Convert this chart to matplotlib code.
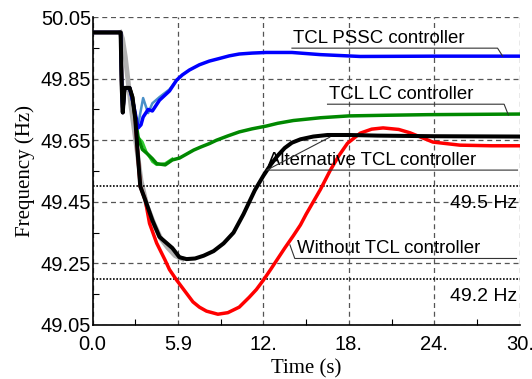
import numpy as np
import matplotlib.pyplot as plt
from matplotlib.ticker import MultipleLocator, FixedLocator

# Data (time in s, frequency in Hz)
t_alt = [0, 1.97, 2.05, 2.12, 2.25, 2.6, 2.8, 3.0, 3.15, 3.35, 3.7, 4.2, 4.7, 5.1, 5.6, 6.1, 6.6,
         7.2, 7.8, 8.5, 9.2, 9.9, 10.6, 11.4, 12.0, 12.5, 13.0, 13.5, 14.0, 14.6, 15.5, 16.5,
         18.0, 20.0, 24.0, 30.0]
f_alt = [50.0, 50.0, 49.82, 49.74, 49.82, 49.82, 49.79, 49.72, 49.62, 49.50, 49.456, 49.39,
         49.336, 49.32, 49.30, 49.27, 49.264, 49.266, 49.275, 49.29, 49.315, 49.35, 49.41,
         49.488, 49.535, 49.57, 49.60, 49.625, 49.642, 49.653, 49.662, 49.667, 49.667, 49.665,
         49.663, 49.662]

t_without = [0, 1.97, 2.05, 2.12, 2.25, 2.6, 2.8, 3.0, 3.15, 3.35, 3.7, 4.0, 4.5, 5.1, 5.4,
             5.9, 6.4, 7.05, 7.5, 8.0, 8.8, 9.5, 10.3, 11.0, 11.5, 12.0, 12.5, 13.0, 13.5,
             14.1, 14.6, 15.0, 15.5, 16.0, 16.7, 17.3, 17.9, 18.8, 19.6, 20.4, 21.5, 22.3,
             23.9, 25.8, 28.0, 30.0]
f_without = [50.0, 50.0, 49.82, 49.74, 49.82, 49.82, 49.79, 49.72, 49.62, 49.50, 49.456, 49.38,
             49.316, 49.26, 49.23, 49.196, 49.165, 49.125, 49.108, 49.095, 49.085, 49.09,
             49.108, 49.14, 49.165, 49.196, 49.23, 49.265, 49.30, 49.34, 49.375, 49.41, 49.45,
             49.49, 49.553, 49.60, 49.64, 49.673, 49.686, 49.69, 49.685, 49.674, 49.644,
             49.634, 49.632, 49.632]

t_pssc = [0, 1.97, 2.05, 2.12, 2.25, 2.6, 2.9, 3.2, 3.4, 3.55, 3.9, 4.2, 4.7, 5.4, 5.9, 6.3,
          6.8, 7.5, 8.2, 8.95, 9.6, 10.3, 11.2, 12.2, 14.0, 16.0, 18.8, 24.0, 30.0]
f_pssc = [50.0, 50.0, 49.82, 49.74, 49.82, 49.82, 49.76, 49.69, 49.70, 49.725, 49.75, 49.745,
          49.78, 49.81, 49.845, 49.862, 49.878, 49.895, 49.907, 49.916, 49.924, 49.93, 49.933,
          49.935, 49.935, 49.928, 49.922, 49.923, 49.923]
t_pssc_lt = [2.6, 2.9, 3.2, 3.55, 3.9, 4.2, 4.7, 5.4, 5.9]
f_pssc_lt = [49.82, 49.75, 49.70, 49.787, 49.738, 49.77, 49.79, 49.815, 49.845]

t_lc = [0, 1.97, 2.05, 2.12, 2.25, 2.6, 2.8, 3.0, 3.2, 3.5, 3.8, 4.2, 4.5, 5.1, 5.6, 6.1, 6.6,
        7.1, 7.6, 8.2, 8.7, 9.5, 10.3, 11.2, 12.2, 13.0, 14.1, 16.0, 18.0, 20.5, 23.5, 30.0]
f_lc = [50.0, 50.0, 49.82, 49.74, 49.82, 49.82, 49.79, 49.72, 49.66, 49.62, 49.608, 49.59,
        49.574, 49.57, 49.586, 49.592, 49.605, 49.618, 49.628, 49.639, 49.65, 49.664, 49.677,
        49.687, 49.696, 49.705, 49.714, 49.723, 49.729, 49.731, 49.733, 49.735]
t_lc_lt = [3.2, 3.5, 3.8, 4.2, 4.5, 5.1, 5.6]
f_lc_lt = [49.66, 49.645, 49.61, 49.58, 49.57, 49.575, 49.59]

t_grey = [1.95, 2.1, 2.3, 2.5, 2.7, 3.0, 3.4, 3.8, 4.3, 4.8, 5.3, 5.8, 6.3]
f_grey = [50.0, 49.98, 49.92, 49.84, 49.76, 49.66, 49.52, 49.44, 49.38, 49.33, 49.30, 49.275,
          49.265]

xticks = [0, 6, 12, 18, 24, 30]
xticklabels = ['0.0', '5.9', '12.', '18.', '24.', '30.']
yticks = [49.05, 49.25, 49.45, 49.65, 49.85, 50.05]

plt.rcParams['font.family'] = ['Liberation Sans', 'DejaVu Sans']

fig = plt.figure(figsize=(5.32, 3.79), dpi=100)
ax = fig.add_axes([0.174, 0.1425, 0.803, 0.8125])

# кривые
ax.plot(t_grey, f_grey, color='#b0b0b0', lw=3.5, zorder=2, solid_joinstyle='round')
ax.plot(t_without, f_without, color='#ff0000', lw=2.5, zorder=3, solid_joinstyle='round')
ax.plot(t_lc_lt, f_lc_lt, color='#33cc33', lw=1.8, zorder=3)
ax.plot(t_lc, f_lc, color='#008800', lw=2.5, zorder=4, solid_joinstyle='round')
ax.plot(t_pssc_lt, f_pssc_lt, color='#4a90c8', lw=1.8, zorder=3)
ax.plot(t_pssc, f_pssc, color='#0000ff', lw=2.5, zorder=4, solid_joinstyle='round')
ax.plot(t_alt, f_alt, color='black', lw=2.9, zorder=5, solid_joinstyle='round')

# пороговые линии
ax.axhline(49.5, color='black', lw=1.2, ls=(0, (1, 1)), zorder=2)
ax.axhline(49.2, color='black', lw=1.2, ls=(0, (1, 1)), zorder=2)
ax.text(29.85, 49.443, '49.5 Hz', ha='right', va='center', fontsize=14)
ax.text(29.85, 49.144, '49.2 Hz', ha='right', va='center', fontsize=14)

# подписи с выносками
lead = dict(color='#333333', lw=0.8, zorder=6)
fs = 13.4
ax.plot([14.0, 28.44, 28.8], [49.949, 49.949, 49.923], **lead)
ax.text(14.1, 49.953, 'TCL PSSC controller', ha='left', va='bottom', fontsize=fs)
ax.plot([16.5, 28.9, 29.2], [49.767, 49.767, 49.732], **lead)
ax.text(16.6, 49.771, 'TCL LC controller', ha='left', va='bottom', fontsize=fs)
ax.plot([16.66, 12.23, 29.84], [49.66, 49.553, 49.553], **lead)
ax.text(12.3, 49.557, 'Alternative TCL controller', ha='left', va='bottom', fontsize=fs)
ax.plot([13.86, 14.2, 29.77], [49.31, 49.266, 49.266], **lead)
ax.text(14.35, 49.27, 'Without TCL controller', ha='left', va='bottom', fontsize=fs)

ax.set_xlim(0, 30)
ax.set_ylim(49.05, 50.05)
ax.set_xticks(xticks)
ax.set_xticklabels(xticklabels)
ax.yaxis.set_major_locator(FixedLocator(yticks))
ax.set_yticklabels(['%.2f' % v for v in yticks])
ax.xaxis.set_minor_locator(MultipleLocator(3))
ax.yaxis.set_minor_locator(FixedLocator([49.15, 49.35, 49.55, 49.75, 49.95]))
ax.tick_params(which='both', direction='in', labelsize=14.5)
ax.tick_params(which='major', length=0)
ax.tick_params(which='minor', length=4, width=0.8)
ax.tick_params(axis='y', pad=1)
ax.tick_params(axis='x', pad=7)
ax.grid(True, which='major', color='#555555', ls=(0, (4, 3)), lw=0.9)

ax.spines['top'].set_visible(False)
ax.spines['right'].set_visible(False)
ax.spines['left'].set_linewidth(1.2)
ax.spines['bottom'].set_linewidth(1.2)

ax.set_xlabel('Time (s)', family='Liberation Serif', fontsize=15, labelpad=4)
ax.set_ylabel('Frequency (Hz)', family='Liberation Serif', fontsize=15, labelpad=4)

fig.savefig('out.png', dpi=100)
